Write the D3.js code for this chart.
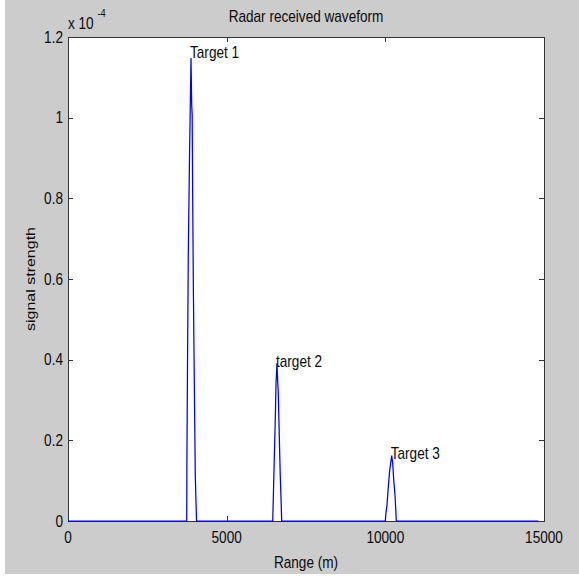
<!DOCTYPE html>
<html>
<head>
<meta charset="utf-8">
<script src="https://cdn.jsdelivr.net/npm/d3@7"></script>
<style>
  html, body { margin: 0; padding: 0; background: #ffffff; }
  svg { display: block; }
  text { font-family: "Liberation Sans", Arial, Helvetica, sans-serif; fill: #0a0a0a; }
</style>
</head>
<body>
<script>
// Received echo: range samples (m) and signal strength (in units of 1e-4)
const rangeM = [0, 3741, 3747, 3766, 3791, 3829, 3876, 3898, 3913, 3929, 3951, 3980, 4011, 4050,
                6451, 6467, 6498, 6530, 6555, 6586, 6608, 6627, 6656, 6687, 6719, 6734,
                9999, 10012, 10053, 10094, 10138, 10201, 10232, 10264, 10305, 10330, 10346,
                14820];
const signal = [0, 0, 0.144, 0.387, 0.664, 0.902, 1.148, 1.031, 1.007, 0.80, 0.573, 0.345, 0.114, 0,
                0, 0.048, 0.147, 0.246, 0.341, 0.391, 0.345, 0.317, 0.217, 0.118, 0.040, 0,
                0, 0.015, 0.040, 0.085, 0.126, 0.162, 0.143, 0.102, 0.064, 0.027, 0,
                0];
const exponent = -4;

// Target annotations
const targetNames = ["Target 1", "target 2", "Target 3"];
const targetRange = [3845, 6555, 10170];
const targetLevel = [1.162, 0.397, 0.169];

// Axis ticks
const xTicks = [0, 5000, 10000, 15000];
const xTickLabels = ["0", "5000", "10000", "15000"];
const yTicks = [0, 0.2, 0.4, 0.6, 0.8, 1.0, 1.2];
const yTickLabels = ["0", "0.2", "0.4", "0.6", "0.8", "1", "1.2"];

const titleText = "Radar received waveform";
const xLabelText = "Range (m)";
const yLabelText = "signal strength";

const W = 579, H = 577;
const plotL = 68, plotR = 544, plotT = 37, plotB = 521;
const SX = 0.85;       // narrow glyph aspect
const FS = 16;
const TICK = 5;

const x = d3.scaleLinear().domain([0, 15000]).range([plotL, plotR]);
const y = d3.scaleLinear().domain([0, 1.2]).range([plotB, plotT]);

const svg = d3.select("body").append("svg").attr("width", W).attr("height", H);

// figure background
svg.append("rect").attr("x", 5).attr("y", 0).attr("width", W - 5).attr("height", H - 3).attr("fill", "#cccccc");
// axes background
svg.append("rect").attr("x", plotL).attr("y", plotT).attr("width", plotR - plotL).attr("height", plotB - plotT).attr("fill", "#ffffff");

function label(px, py, str, anchor, size, rotate) {
  return svg.append("text")
    .attr("transform", `translate(${px},${py}) scale(${SX},1)` + (rotate ? ` rotate(${rotate})` : ""))
    .attr("text-anchor", anchor)
    .attr("font-size", size || FS)
    .text(str);
}

// ticks on all four sides, pointing inward
const tickG = svg.append("g").attr("stroke", "#333").attr("stroke-width", 1);
xTicks.forEach(v => {
  const px = Math.round(x(v)) + 0.5;
  tickG.append("line").attr("x1", px).attr("x2", px).attr("y1", plotB).attr("y2", plotB - TICK);
  tickG.append("line").attr("x1", px).attr("x2", px).attr("y1", plotT).attr("y2", plotT + TICK);
});
yTicks.forEach(v => {
  const py = Math.round(y(v)) + 0.5;
  tickG.append("line").attr("x1", plotL).attr("x2", plotL + TICK).attr("y1", py).attr("y2", py);
  tickG.append("line").attr("x1", plotR).attr("x2", plotR - TICK).attr("y1", py).attr("y2", py);
});

// axes box
svg.append("rect")
  .attr("x", plotL + 0.5).attr("y", plotT + 0.5)
  .attr("width", plotR - plotL).attr("height", plotB - plotT)
  .attr("fill", "none").attr("stroke", "#333").attr("stroke-width", 1);

// tick labels
xTicks.forEach((v, i) => label(x(v), plotB + 22, xTickLabels[i], "middle"));
yTicks.forEach((v, i) => label(plotL - 5, y(v) + 5.7, yTickLabels[i], "end"));

// exponent marker
label(plotL, 29, "x 10", "start");
label(plotL + 29.5, 17, String(exponent), "start", 11);

// titles
label((plotL + plotR) / 2, 22, titleText, "middle");
label((plotL + plotR) / 2, 568, xLabelText, "middle");
label(35, (plotT + plotB) / 2, yLabelText, "middle", FS, -90);

// waveform
const pts = rangeM.map((r, i) => [r, signal[i]]);
svg.append("path")
  .datum(pts)
  .attr("fill", "none")
  .attr("stroke", "#0000ff")
  .attr("stroke-width", 1.25)
  .attr("stroke-linejoin", "miter")
  .attr("d", d3.line().x(d => x(d[0])).y(d => y(d[1])));

// target annotations
targetNames.forEach((n, i) => label(x(targetRange[i]), y(targetLevel[i]) + 5.7, n, "start"));
</script>
</body>
</html>
